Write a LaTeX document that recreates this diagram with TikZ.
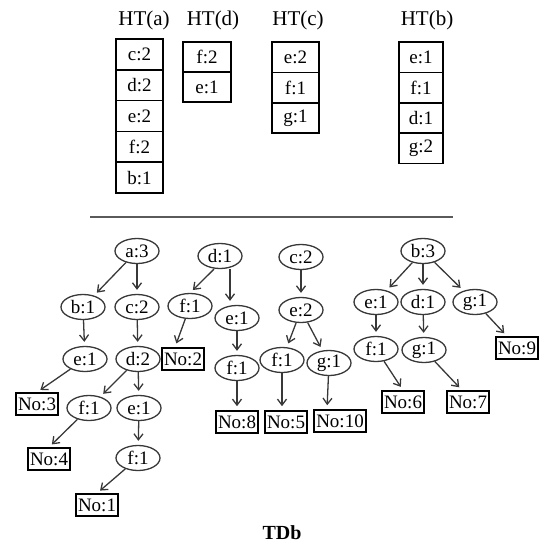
\documentclass[tikz,border=0pt]{standalone}
\usepackage{fontspec}
\setmainfont{Liberation Serif}
\usetikzlibrary{shapes.geometric,arrows.meta}
\definecolor{edgegray}{HTML}{383838}
\definecolor{rulegray}{HTML}{5A5A5A}
\begin{document}
\begin{tikzpicture}[x=1pt,y=-1pt,
  hdr/.style={font=\fontsize{21}{24}\selectfont, inner sep=0pt},
  cell/.style={draw=black, line width=1.5pt, minimum width=#1, minimum height=30.4pt, inner sep=0pt, font=\fontsize{19}{22}\selectfont},
  tn/.style={ellipse, draw=edgegray, line width=1.3pt, minimum width=44pt, minimum height=25pt, inner sep=0pt, font=\fontsize{19}{22}\selectfont},
  leaf/.style={draw=black, line width=1.6pt, minimum width=42pt, minimum height=22pt, inner xsep=2pt, inner ysep=0pt, font=\fontsize{19}{22}\selectfont},
  arr/.style={draw=edgegray, line width=1.3pt, -{Straight Barb[length=6pt,width=9pt]}, shorten >=4pt}
]
\useasboundingbox (0,0) rectangle (542,546);

% ---------- header tables ----------
\node[hdr] (hta) at (144,20) {HT(a)};
\node[hdr] (htd) at (213,20) {HT(d)};
\node[hdr] (htc) at (298,20) {HT(c)};
\node[hdr] (htb) at (427,20) {HT(b)};

\node[cell=47pt, minimum height=30.8pt] (ha1) at (139.5,54.4) {c:2};
\node[cell=47pt, minimum height=30.8pt] (ha2) at (139.5,85.2) {d:2};
\node[cell=47pt, minimum height=30.8pt] (ha3) at (139.5,116) {e:2};
\node[cell=47pt, minimum height=30.8pt] (ha4) at (139.5,146.8) {f:2};
\node[cell=47pt, minimum height=30.8pt] (ha5) at (139.5,177.6) {b:1};

\node[cell=48pt, minimum height=30pt] (hd1) at (207,57) {f:2};
\node[cell=48pt, minimum height=30pt] (hd2) at (207,87) {e:1};

\node[cell=47pt] (hc1) at (295.5,57.2) {e:2};
\node[cell=47pt] (hc2) at (295.5,87.6) {f:1};
\node[cell=47pt] (hc3) at (295.5,118) {g:1};

\node[cell=44pt] (hb1) at (421,57.2) {e:1};
\node[cell=44pt] (hb2) at (421,87.6) {f:1};
\node[cell=44pt] (hb3) at (421,118) {d:1};
\node[cell=44pt] (hb4) at (421,148.4) {g:2};

% ---------- separator ----------
\draw[rulegray, line width=1.8pt] (90,217) -- (453,217);

% ---------- tree 1 ----------
\node[tn] (a3)  at (137,251) {a:3};
\node[tn] (b1)  at (83,307)  {b:1};
\node[tn] (c2)  at (137,307) {c:2};
\node[tn] (e1a) at (85,359)  {e:1};
\node[tn] (d2)  at (138,359) {d:2};
\node[leaf] (no3) at (37,404) {No:3};
\node[tn] (f1a) at (89,408)  {f:1};
\node[tn] (e1b) at (139,408) {e:1};
\node[leaf] (no4) at (49,459) {No:4};
\node[tn] (f1b) at (138,458) {f:1};
\node[leaf] (no1) at (97,505) {No:1};

\draw[arr] (a3) -- (b1);
\draw[arr] (a3) -- (c2);
\draw[arr] (b1) -- (e1a);
\draw[arr] (c2) -- (d2);
\draw[arr] (e1a) -- (no3.north);
\draw[arr] (d2) -- (f1a);
\draw[arr] (d2) -- (e1b);
\draw[arr] (f1a) -- (no4.north);
\draw[arr] (e1b) -- (f1b);
\draw[arr] (f1b) -- (no1.north);

% ---------- tree 2 ----------
\node[tn] (d1)  at (220,256) {d:1};
\node[tn] (f1c) at (190,306) {f:1};
\node[tn] (e1c) at (237,318) {e:1};
\node[leaf] (no2) at (183,359) {No:2};
\node[tn] (f1d) at (237,368) {f:1};
\node[leaf] (no8) at (237,422) {No:8};

\draw[arr] ([xshift=-6pt]d1.south) -- (f1c.north);
\draw[arr] ([xshift=10pt]d1.south) -- ([xshift=-7pt]e1c.north);
\draw[arr] (f1c) -- ([xshift=-8pt]no2.north);
\draw[arr] (e1c) -- (f1d);
\draw[arr] (f1d) -- (no8.north);

% ---------- tree 3 ----------
\node[tn] (c2b) at (301,257) {c:2};
\node[tn] (e2)  at (301,310) {e:2};
\node[tn] (f1e) at (282,360) {f:1};
\node[tn] (g1a) at (329,363) {g:1};
\node[leaf] (no5) at (286,422) {No:5};
\node[leaf] (no10) at (340,421) {No:10};

\draw[arr] (c2b) -- (e2);
\draw[arr] (e2) -- (f1e);
\draw[arr] (e2) -- (g1a);
\draw[arr] (f1e) -- (f1e |- no5.north);
\draw[arr] (g1a) -- ([xshift=-2pt]g1a |- no10.north);

% ---------- tree 4 ----------
\node[tn] (b3)  at (423,251) {b:3};
\node[tn] (e1d) at (376,302) {e:1};
\node[tn] (d1b) at (423,302) {d:1};
\node[tn] (g1b) at (475,302) {g:1};
\node[tn] (f1f) at (376,349) {f:1};
\node[tn] (g1c) at (424,350) {g:1};
\node[leaf] (no9) at (517,348) {No:9};
\node[leaf] (no6) at (403,402) {No:6};
\node[leaf] (no7) at (468,402) {No:7};

\draw[arr] (b3) -- (e1d);
\draw[arr] (b3) -- (d1b);
\draw[arr] (b3) -- (g1b);
\draw[arr] (e1d) -- (f1f);
\draw[arr] (d1b) -- (g1c);
\draw[arr] (g1b) -- ([xshift=-10pt]no9.north);
\draw[arr] (f1f) -- (no6.north);
\draw[arr] (g1c) -- ([xshift=-6pt]no7.north);

% ---------- caption ----------
\node[font=\bfseries\fontsize{20}{24}\selectfont] (title) at (282,533) {TDb};
\end{tikzpicture}
\end{document}
